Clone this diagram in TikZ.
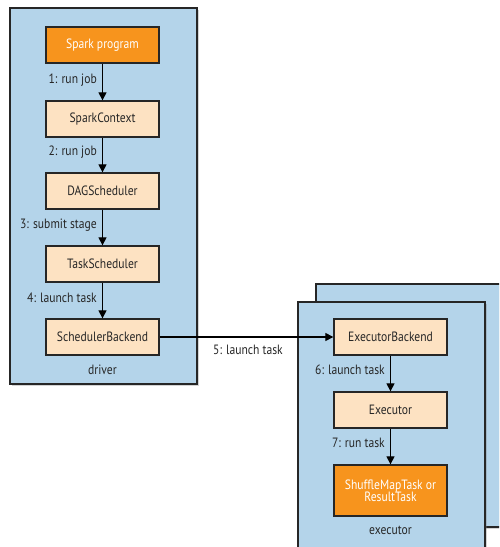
\documentclass[tikz,border=0pt]{standalone}
\usepackage{fontspec}
\setmainfont[FakeStretch=0.86]{PT Sans}
\usetikzlibrary{arrows.meta,shadows}
\definecolor{panelblue}{HTML}{B4D4EA}
\definecolor{peach}{HTML}{FDE2C2}
\definecolor{sparkorange}{HTML}{F7941D}
\definecolor{edge}{HTML}{262626}
\tikzset{
  panel/.style={draw=edge, line width=1.4pt, fill=panelblue,
    drop shadow={shadow xshift=2pt, shadow yshift=-2pt, opacity=0.35}},
  comp/.style={draw=edge, line width=1.3pt, fill=peach, minimum width=113pt,
    minimum height=36pt, inner sep=0pt, font=\fontsize{13.5}{15}\selectfont, text=black!85},
  hot/.style={comp, fill=sparkorange, text=white},
  flow/.style={-{Triangle[length=8pt,width=8pt]}, line width=1.2pt, draw=black},
  lbl/.style={font=\fontsize{13.5}{15}\selectfont, text=black!85, inner sep=0pt},
}
\begin{document}
\begin{tikzpicture}[x=1pt,y=-1pt]
\useasboundingbox (0,0) rectangle (499,547);
\clip (0,0) rectangle (499,547);
% driver panel
\node[panel, minimum width=187pt, minimum height=376pt, inner sep=0pt] (driver) at (103.5,196) {};
\node[lbl] (driverlbl) at (102.5,370) {driver};
% executor panels (one behind another)
\node[panel, minimum width=200pt, minimum height=243pt, inner sep=0pt] (execback) at (416,405.5) {};
\node[panel, minimum width=187pt, minimum height=246pt, inner sep=0pt] (execfront) at (391.5,425) {};
\node[lbl] (execlbl) at (390.5,530) {executor};
% driver components
\node[hot]  (prog) at (102.5,45)  {Spark program};
\node[comp] (ctx)  at (102.5,119) {SparkContext};
\node[comp] (dag)  at (102.5,191) {DAGScheduler};
\node[comp] (ts)   at (102.5,264) {TaskScheduler};
\node[comp] (sb)   at (102.5,337) {SchedulerBackend};
% executor components
\node[comp] (eb)   at (390.5,337) {ExecutorBackend};
\node[comp] (ex)   at (390.5,410) {Executor};
\node[hot, minimum height=51pt, align=center] (task) at (390.5,490.5) {ShuffleMapTask or\\[-3pt]ResultTask};
% connectors
\draw[flow] (prog) -- (ctx);
\draw[flow] (ctx) -- (dag);
\draw[flow] (dag) -- (ts);
\draw[flow] (ts) -- (sb);
\draw[flow] (sb) -- (eb);
\draw[flow] (eb) -- (ex);
\draw[flow] (ex) -- (task);
% connector labels
\node[lbl, anchor=east] (l1) at (97,80)  {1: run job};
\node[lbl, anchor=east] (l2) at (97,152) {2: run job};
\node[lbl, anchor=east] (l3) at (97,225) {3: submit stage};
\node[lbl, anchor=east] (l4) at (97,298) {4: launch task};
\node[lbl] (l5) at (248,350) {5: launch task};
\node[lbl, anchor=east] (l6) at (385,370) {6: launch task};
\node[lbl, anchor=east] (l7) at (385,443) {7: run task};
\end{tikzpicture}
\end{document}
